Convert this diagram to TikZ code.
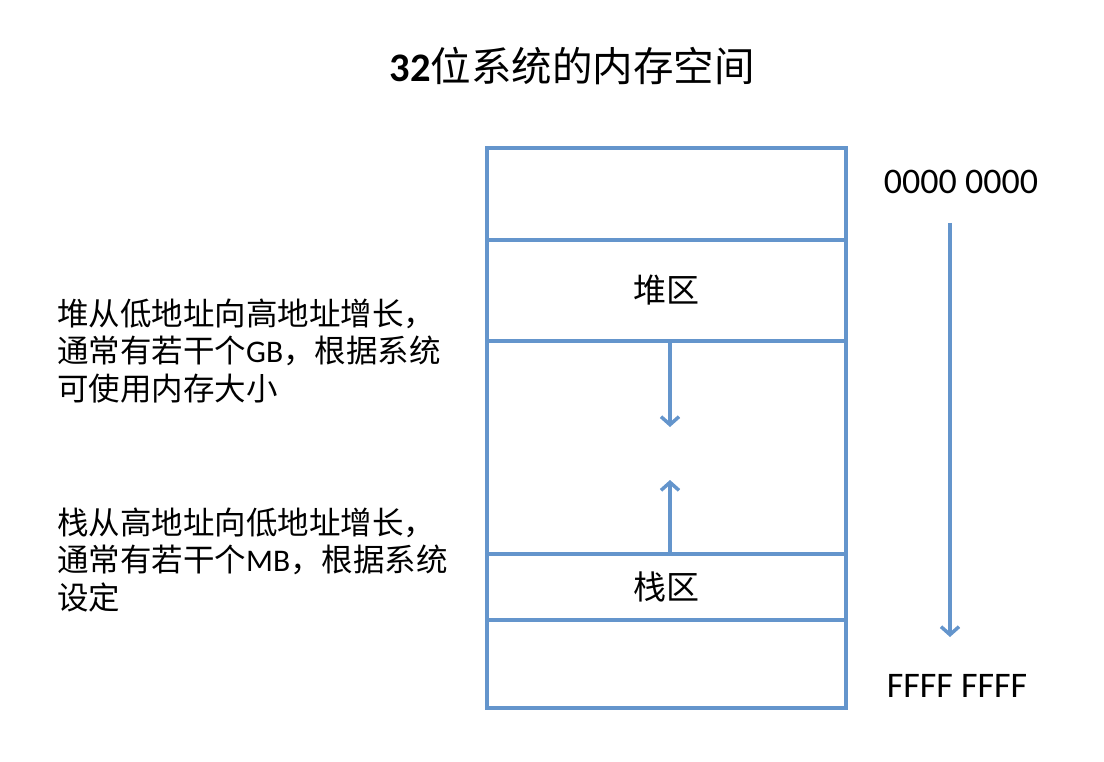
\documentclass[tikz,border=0pt]{standalone}
\usepackage{fontspec}
\setmainfont{Carlito}
\newfontfamily\cjk{Noto Sans CJK SC}
\usetikzlibrary{arrows.meta}
\definecolor{memblue}{RGB}{100,149,204}
\begin{document}
\begin{tikzpicture}[x=1pt,y=-1pt,
  cell/.style={draw=memblue,line width=3.5pt,minimum width=359pt,inner sep=0pt,
    font=\fontsize{33}{36}\selectfont\cjk},
  growarrow/.style={draw=memblue,line width=3.8pt,
    -{Straight Barb[length=8pt,width=18pt,line width=3.5pt]}},
  note/.style={anchor=west,align=left,inner sep=0pt,
    font=\fontsize{31.5}{37.5}\selectfont},
  addr/.style={inner sep=0pt,font=\fontsize{36}{40}\selectfont}]
\useasboundingbox (0,0) rectangle (1104,762);
% title
\node[inner sep=0pt,font=\fontsize{40.5}{44}\selectfont] (title) at (572,66)
  {\textbf{32}{\cjk 位系统的内存空间}};
% memory column
\node[cell,minimum height=92pt] (top) at (666.5,194) {};
\node[cell,minimum height=101pt] (heap) at (666.5,290.5) {堆区};
\node[cell,minimum height=213pt] (gap) at (666.5,447.5) {};
\node[cell,minimum height=66pt] (stack) at (666.5,587) {栈区};
\node[cell,minimum height=88pt] (bottom) at (666.5,664) {};
% growth arrows
\coordinate (heaptip) at (670,427);
\coordinate (stacktip) at (670,480);
\draw[growarrow] (heap.south -| heaptip) -- (heaptip);
\draw[growarrow] (stack.north -| stacktip) -- (stacktip);
% address labels
\node[addr] (low) at (961,182) {0000 0000};
\node[addr] (high) at (957,686) {FFFF FFFF};
\coordinate (astart) at (950,223);
\coordinate (aend) at (950,637);
\draw[growarrow] (astart) -- (aend);
% notes
\node[note] (heapnote) at (57,351)
  {{\cjk 堆从低地址向高地址增长，}\\
   {\cjk 通常有若干个}GB{\cjk ，根据系统}\\
   {\cjk 可使用内存大小}};
\node[note] (stacknote) at (57,560)
  {{\cjk 栈从高地址向低地址增长，}\\
   {\cjk 通常有若干个}MB{\cjk ，根据系统}\\
   {\cjk 设定}};
\end{tikzpicture}
\end{document}
